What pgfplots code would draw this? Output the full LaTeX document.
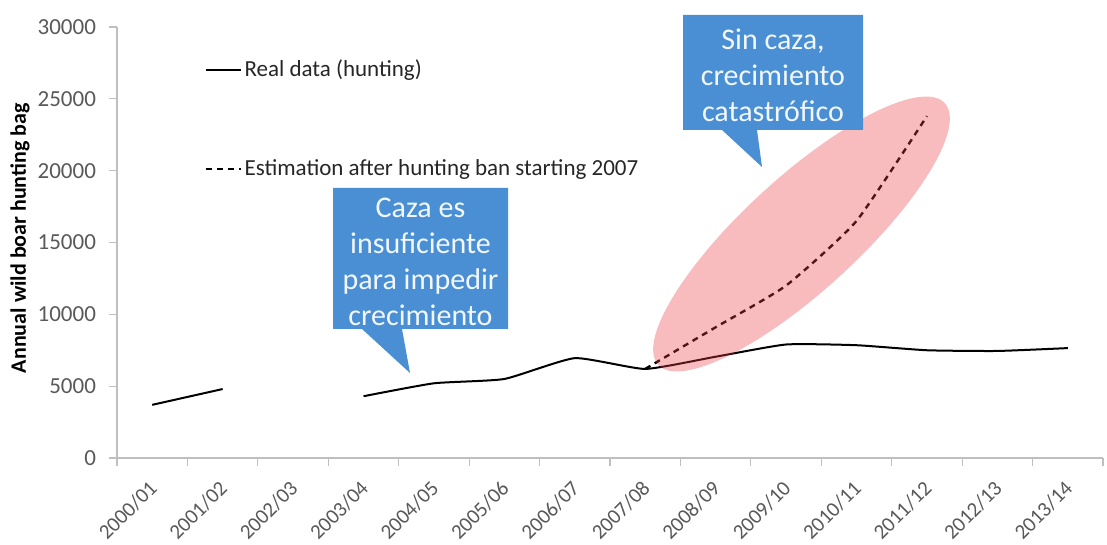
\documentclass[border=0pt]{standalone}
\usepackage{fontspec}
\setmainfont{Carlito}
\usepackage{pgfplots}
\pgfplotsset{compat=1.18}
\definecolor{callblue}{RGB}{74,143,212}
\definecolor{ellbase}{RGB}{235,60,70}
\definecolor{axgray}{RGB}{191,191,191}
\definecolor{tkgray}{RGB}{89,89,89}
\begin{document}
\begin{tikzpicture}
\path[use as bounding box] (-58.5pt,-43.5pt) rectangle (495pt,229pt);
\begin{axis}[
  scale only axis, width=493pt, height=215.5pt,
  at={(0pt,0pt)}, anchor=south west,
  xmin=-0.5, xmax=13.5, ymin=0, ymax=30000,
  axis lines*=left,
  axis line style={axgray, line width=0.6pt},
  xtick={-0.5,0.5,...,13.5},
  x tick label as interval,
  xticklabels={2000/01,2001/02,2002/03,2003/04,2004/05,2005/06,2006/07,2007/08,2008/09,2009/10,2010/11,2011/12,2012/13,2013/14},
  ytick={0,5000,...,30000},
  tick align=outside, major tick length=4pt,
  tick style={axgray, line width=0.6pt},
  scaled y ticks=false,
  /pgf/number format/1000 sep={},
  /pgf/number format/assume math mode=true,
  tick label style={text=tkgray},
  yticklabel style={font=\fontsize{11.5}{13}\selectfont, xshift=-3pt},
  xticklabel style={font=\fontsize{10.5}{12}\selectfont, xshift=3pt, yshift=-7pt, rotate=45, anchor=east},
  ylabel={Annual wild boar hunting bag},
  every axis y label/.style={at={(axis description cs:-0.0984,0.51)}, rotate=90, anchor=center, font=\fontsize{11}{13}\selectfont\bfseries},
  legend style={at={(axis description cs:0.089,0.925)}, anchor=north west, draw=none, fill=none, inner sep=0pt, row sep=40pt, font=\fontsize{11.5}{13}\selectfont, text=black!85, nodes={inner xsep=1pt, inner ysep=0pt}},
  legend cell align=left,
  legend image code/.code={\draw[#1] (0pt,0pt) -- (17.5pt,0pt);},
]
\addplot[black, line width=1pt, smooth, tension=0.3, forget plot] coordinates {(0,3700) (1,4800)};
\addplot[black, line width=1pt, smooth, tension=0.3] coordinates {(3,4300) (4,5200) (5,5500) (6,6950) (7,6200) (8,7050) (9,7900) (10,7850) (11,7500) (12,7450) (13,7650)};
\addlegendentry{Real data (hunting)}
\addplot[black, line width=1.2pt, dash pattern=on 3pt off 2.5pt, smooth, tension=0.3] coordinates {(7,6200) (8,9100) (9,12000) (10,16500) (11,23800)};
\addlegendentry{Estimation after hunting ban starting 2007}
\end{axis}
\fill[ellbase, fill opacity=0.35, rotate around={42.4:(342.25pt,112pt)}] (342.25pt,112pt) ellipse (97pt and 28.5pt);
\begin{scope}[shift={(-58.5pt,229pt)}, x=0.5pt, y=-0.5pt]
\fill[callblue] (333,188) -- (508,188) -- (508,329) -- (402,329) -- (410,373) -- (362,329) -- (333,329) -- cycle;
\node[text=white!93!callblue, align=center, font=\fontsize{15}{18}\selectfont] at (420.5,262) {Caza es\\insuficiente\\para impedir\\crecimiento};
\fill[callblue] (683,15) -- (863,15) -- (863,130) -- (757,130) -- (762,167) -- (722,130) -- (683,130) -- cycle;
\node[text=white!93!callblue, align=center, font=\fontsize{15}{18}\selectfont] at (773,75) {Sin caza,\\crecimiento\\catastrófico};
\end{scope}
\end{tikzpicture}
\end{document}
